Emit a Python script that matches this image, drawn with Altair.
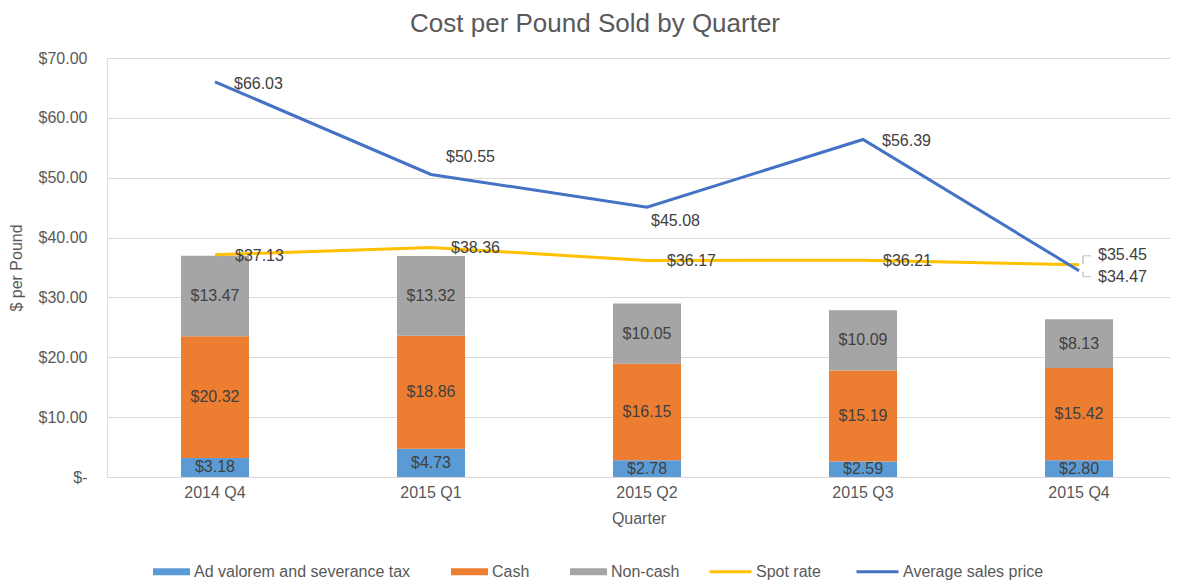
import altair as alt
import pandas as pd

quarters = ["2014 Q4", "2015 Q1", "2015 Q2", "2015 Q3", "2015 Q4"]
ad_valorem = [3.18, 4.73, 2.78, 2.59, 2.80]
cash = [20.32, 18.86, 16.15, 15.19, 15.42]
non_cash = [13.47, 13.32, 10.05, 10.09, 8.13]
spot_rate = [37.13, 38.36, 36.17, 36.21, 35.45]
avg_price = [66.03, 50.55, 45.08, 56.39, 34.47]

bar_series = ["Ad valorem and severance tax", "Cash", "Non-cash"]
bar_colors = ["#5B9BD5", "#ED7D31", "#A5A5A5"]
line_series = ["Spot rate", "Average sales price"]
line_colors = ["#FFC000", "#4472C4"]
y_ticks = [0, 10, 20, 30, 40, 50, 60, 70]

FONT = "Liberation Sans"
AXIS_GRAY = "#595959"
LABEL_GRAY = "#404040"
LEADER_GRAY = "#A6A6A6"

bar_rows = []
for i, (s, vals) in enumerate(zip(bar_series, [ad_valorem, cash, non_cash])):
    for q, v in zip(quarters, vals):
        bar_rows.append({"quarter": q, "series": s, "order": i, "value": v})
bars_df = pd.DataFrame(bar_rows)

line_rows = []
for s, vals in zip(line_series, [spot_rate, avg_price]):
    for q, v in zip(quarters, vals):
        line_rows.append({"quarter": q, "series": s, "value": v})
lines_df = pd.DataFrame(line_rows)

x_enc = alt.X(
    "quarter:N",
    sort=quarters,
    scale=alt.Scale(paddingInner=0.685, paddingOuter=0.303, align=0.565),
    axis=alt.Axis(
        title="Quarter", labelAngle=0, ticks=False, domain=False, grid=False,
        labelPadding=7, titlePadding=10, labelFontSize=16, labelColor=AXIS_GRAY,
        titleFontSize=16, titleColor=AXIS_GRAY, titleFontWeight="normal",
        labelFont=FONT, titleFont=FONT,
    ),
)
y_scale = alt.Scale(domain=[0, 70], nice=False)
y_axis = alt.Axis(
    title="$ per Pound", values=y_ticks, grid=True, gridColor="#D9D9D9", gridWidth=1,
    domain=False, ticks=False, labelPadding=20, titlePadding=14,
    labelExpr="datum.value == 0 ? '$-\u00a0\u00a0' : format(datum.value, '$.2f')",
    labelFontSize=16, labelColor=AXIS_GRAY, titleFontSize=16, titleColor=AXIS_GRAY,
    titleFontWeight="normal", labelFont=FONT, titleFont=FONT,
)

stacked = alt.Chart(bars_df).transform_stack(
    stack="value", groupby=["quarter"], as_=["y0", "y1"],
    sort=[alt.SortField("order", order="ascending")],
)

bars = stacked.mark_bar().encode(
    x=x_enc,
    y=alt.Y("y0:Q", scale=y_scale, axis=y_axis),
    y2="y1:Q",
    fill=alt.Fill(
        "series:N",
        scale=alt.Scale(domain=bar_series, range=bar_colors),
        legend=alt.Legend(
            title=None, orient="none", legendX=46, legendY=495, direction="horizontal",
            symbolType="M-1,-0.19L1,-0.19L1,0.19L-1,0.19Z", symbolSize=1369,
            symbolStrokeWidth=0, labelFontSize=16, labelColor=AXIS_GRAY,
            labelOffset=4, columnPadding=40, labelFont=FONT, labelLimit=0,
        ),
    ),
    order=alt.Order("order:Q"),
)

bar_labels = stacked.transform_calculate(
    mid="(datum.y0 + datum.y1) / 2",
    label="format(datum.value, '$.2f')",
).mark_text(fontSize=16, color=LABEL_GRAY, font=FONT).encode(
    x=x_enc, y=alt.Y("mid:Q", scale=y_scale), text="label:N"
)

lines = alt.Chart(lines_df).mark_line(strokeWidth=3).encode(
    x=x_enc,
    y=alt.Y("value:Q", scale=y_scale),
    stroke=alt.Stroke(
        "series:N",
        scale=alt.Scale(domain=line_series, range=line_colors),
        legend=alt.Legend(
            title=None, orient="none", legendX=601, legendY=491, direction="horizontal",
            symbolType="stroke", symbolSize=1764, symbolStrokeWidth=3,
            labelFontSize=16, labelColor=AXIS_GRAY, labelOffset=3,
            columnPadding=29, labelFont=FONT, labelLimit=0,
        ),
    ),
    order=alt.Order("series:N", sort="descending"),
)

line_text_base = alt.Chart(lines_df).transform_calculate(
    label="format(datum.value, '$.2f')"
)


def pick(base, series, qs):
    return base.transform_filter(
        alt.FieldEqualPredicate(field="series", equal=series)
    ).transform_filter(
        alt.FieldOneOfPredicate(field="quarter", oneOf=qs)
    )


def line_labels(series, qs, dx, dy):
    return pick(line_text_base, series, qs).mark_text(
        align="left", baseline="middle", dx=dx, dy=dy, fontSize=16,
        color=LABEL_GRAY, font=FONT,
    ).encode(x=x_enc, y=alt.Y("value:Q", scale=y_scale), text="label:N")


labels = [
    line_labels("Spot rate", ["2014 Q4", "2015 Q1", "2015 Q2", "2015 Q3"], 20, 1),
    line_labels("Spot rate", ["2015 Q4"], 19, -10),
    line_labels("Average sales price", ["2014 Q4", "2015 Q3"], 19, 2),
    line_labels("Average sales price", ["2015 Q1"], 15, -17),
    line_labels("Average sales price", ["2015 Q2"], 4, 14),
    line_labels("Average sales price", ["2015 Q4"], 19, 6),
]

leader_base = alt.Chart(lines_df)


def leader(series, y_a, y_b):
    sel = pick(leader_base, series, ["2015 Q4"])
    vert = sel.mark_rule(
        color=LEADER_GRAY, strokeWidth=1, xOffset=4, yOffset=y_a, y2Offset=y_b
    ).encode(x=x_enc, y=alt.Y("value:Q", scale=y_scale), y2="value:Q")
    horiz = sel.mark_tick(
        orient="horizontal", color=LEADER_GRAY, size=8, thickness=1,
        xOffset=8, yOffset=y_b,
    ).encode(x=x_enc, y=alt.Y("value:Q", scale=y_scale))
    return [vert, horiz]


leaders = leader("Spot rate", -1, -9) + leader("Average sales price", 1, 6)

chart = alt.layer(bars, bar_labels, lines, *leaders, *labels).properties(
    width=1063,
    height=419,
    autosize=alt.AutoSizeParams(type="none"),
    padding={"left": 99, "top": 50, "right": 0, "bottom": 112},
    title=alt.TitleParams(
        "Cost per Pound Sold by Quarter", fontSize=26, fontWeight="normal",
        color=AXIS_GRAY, anchor="middle", frame="bounds", offset=13, dx=6, font=FONT,
    ),
).configure_view(stroke=None).configure(font=FONT)

chart.save("out.html", embed_options={"renderer": "svg", "actions": False})
